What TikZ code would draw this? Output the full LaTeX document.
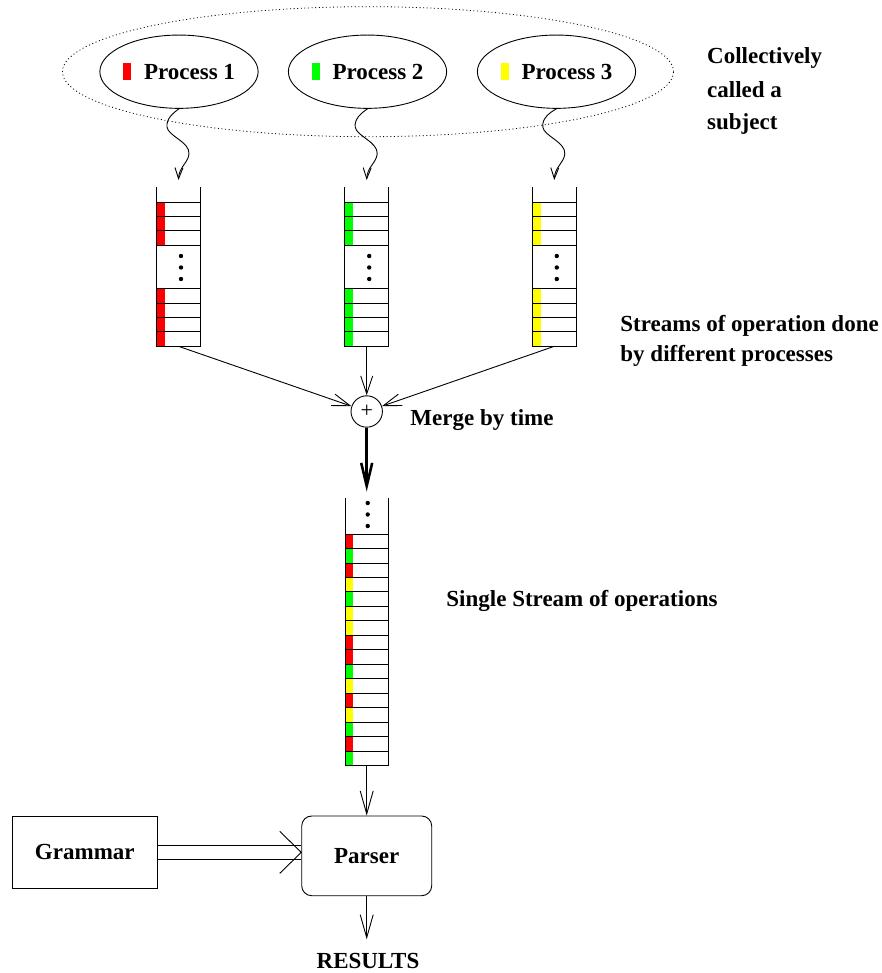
\documentclass[tikz,border=0pt]{standalone}
\usepackage{fontspec}
\setmainfont{Liberation Serif}
\usetikzlibrary{arrows.meta,shapes.geometric}

\definecolor{opred}{RGB}{255,0,0}
\definecolor{opgreen}{RGB}{0,255,0}
\definecolor{opyellow}{RGB}{255,255,0}

\tikzset{
  lbl/.style={font=\bfseries\fontsize{23}{23}\selectfont, inner sep=0},
  proc/.style={ellipse, draw, minimum width=145.8pt, minimum height=73.3pt, inner sep=0, lbl},
  group/.style={ellipse, draw, dash pattern=on 1pt off 2.6pt, line width=0.8pt,
                minimum width=611pt, minimum height=130pt, inner sep=0},
  streamframe/.style={rectangle, draw=none, minimum width=43.6pt, inner sep=0, outer sep=0},
  wavy/.style={-{Straight Barb[length=11pt,width=8pt]}},
  mergein/.style={-{Straight Barb[length=18pt,width=12pt]}},
  flow/.style={-{Straight Barb[length=23pt,width=13pt]}},
  thickflow/.style={line width=2.6pt, -{Straight Barb[length=23pt,width=11pt]}},
  box/.style={rectangle, draw, inner sep=0, lbl},
}

% one operation stream: name, centre x, colour of its marks
\newcommand\opstream[3]{%
  \node[streamframe, minimum height=159.3pt] (#1) at (#2,266.65) {};
  \fill[#3] (#2-21.8,202) rectangle (#2-13.8,245.3);
  \fill[#3] (#2-21.8,288.7) rectangle (#2-13.8,346.3);
  \draw (#2-21.8,187) -- (#2-21.8,346.3) -- (#2+21.8,346.3) -- (#2+21.8,187);
  \foreach \yy in {202,216.4,230.8,245.3,288.7,303.1,317.5,331.9}
    \draw (#2-21.8,\yy) -- (#2+21.8,\yy);
  \foreach \yy in {256,267.5,279}
    \fill (#2+2.5,\yy) circle (2.2pt);
}

% wavy hand-off from a process to the top of its stream
\newcommand\handoff[3]{% process node, end coordinate, stream centre x
  \draw[wavy] (#1.south) .. controls (#3-5.5,113) and (#3-12.5,119) .. (#3-11.5,127)
     .. controls (#3-10.5,136) and (#3+11.5,142) .. (#3+10.5,154)
     .. controls (#3+9.5,163) and (#3+0.5,167) .. (#2);
}

\begin{document}
\begin{tikzpicture}[x=1pt,y=-1pt,line width=0.9pt]
\useasboundingbox (0,0) rectangle (882,973);

% the subject: three processes
\node[group] (subject) at (368,71.7) {};
\node[proc] (p1) at (179,71.7) {{\color{opred}\rule{8pt}{16.5pt}}\hspace{13pt}Process 1};
\node[proc] (p2) at (367.5,71.7) {{\color{opgreen}\rule{8pt}{16.5pt}}\hspace{13pt}Process 2};
\node[proc] (p3) at (556.5,71.7) {{\color{opyellow}\rule{8pt}{16.5pt}}\hspace{13pt}Process 3};

\node[lbl, anchor=base west] (c1) at (706.7,64) {Collectively};
\node[lbl, anchor=base west] (c2) at (706.7,97.5) {called a};
\node[lbl, anchor=base west] (c3) at (706.7,130) {subject};

% per-process streams
\opstream{s1}{178.5}{opred}
\opstream{s2}{366.7}{opgreen}
\opstream{s3}{554.3}{opyellow}

\coordinate (t1) at (178.5,180);
\coordinate (t2) at (366.7,180);
\coordinate (t3) at (554.3,180);
\handoff{p1}{t1}{178.5}
\handoff{p2}{t2}{366.7}
\handoff{p3}{t3}{554.3}

\node[lbl, anchor=base west] (d1) at (620,331.7) {Streams of operation done};
\node[lbl, anchor=base west] (d2) at (620,361) {by different processes};

% merge
\node[circle, draw, minimum size=31.4pt, inner sep=0,
      font=\fontsize{22}{22}\selectfont] (plus) at (366.7,411.5) {+};
\draw[mergein] (s1.south) -- (plus);
\draw[mergein] (s2.south) -- (plus);
\draw[mergein] (s3.south) -- (plus);
\node[lbl, anchor=base west] (mlbl) at (410,425) {Merge by time};

% merged stream
\node[streamframe, minimum width=43.3pt, minimum height=267.7pt] (ms) at (366.7,631.85) {};
\foreach \c [count=\i from 0] in {opred,opgreen,opred,opyellow,opgreen,opyellow,opyellow,opred,
                                  opred,opgreen,opyellow,opred,opyellow,opgreen,opred,opgreen}
  \fill[\c] (345,534+\i*14.48) rectangle (353,534+\i*14.48+14.48);
\draw (345,498) -- (345,765.7) -- (388.3,765.7) -- (388.3,498);
\foreach \i in {0,...,15}
  \draw (345,534+\i*14.48) -- (388.3,534+\i*14.48);
\foreach \yy in {503,514.5,526}
  \fill (367.7,\yy) circle (2.2pt);
\node[lbl, anchor=base west] (slbl) at (446,606.7) {Single Stream of operations};

\coordinate (msin) at (366.7,491.5);
\draw[thickflow] (plus.south) -- (msin);

% parsing
\node[box, minimum width=145pt, minimum height=72.7pt] (grammar) at (84.8,852.35) {Grammar};
\node[box, rounded corners=10pt, minimum width=130pt, minimum height=79.7pt] (parser) at (366.7,855.85) {Parser};
\draw[flow] (ms.south) -- (parser.north);

\coordinate (gp) at (grammar.east -| parser.west);
\draw ([yshift=7.2pt]grammar.east) -- ([yshift=7.2pt]gp);
\draw ([yshift=-7.2pt]grammar.east) -- ([yshift=-7.2pt]gp);
\draw ([xshift=-21.5pt,yshift=21pt]gp) -- (gp) -- ([xshift=-21.5pt,yshift=-21pt]gp);

\node[lbl, anchor=base] (res) at (368,968) {RESULTS};
\coordinate (resin) at (366.7,939.3);
\draw[flow] (parser.south) -- (resin);
\end{tikzpicture}
\end{document}
